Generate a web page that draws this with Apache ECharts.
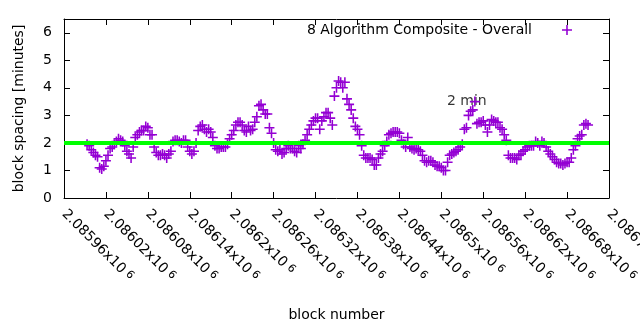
<!DOCTYPE html>
<html><head><meta charset="utf-8">
<script src="https://cdn.jsdelivr.net/npm/echarts@6/dist/echarts.min.js"></script>
<style>html,body{margin:0;padding:0;background:#fff}#c{width:640px;height:330px}</style>
</head><body><div id="c"></div>
<script>
const blocks = [
2085993,2085996,2085999,2086002,2086005,2086008,2086011,2086014,2086017,2086020,
2086023,2086026,2086029,2086032,2086035,2086038,2086041,2086044,2086047,2086050,
2086053,2086056,2086059,2086062,2086065,2086068,2086071,2086074,2086077,2086080,
2086083,2086086,2086089,2086092,2086095,2086098,2086101,2086104,2086107,2086110,
2086113,2086116,2086119,2086122,2086125,2086128,2086131,2086134,2086137,2086140,
2086143,2086146,2086149,2086152,2086155,2086158,2086161,2086164,2086167,2086170,
2086173,2086176,2086179,2086182,2086185,2086188,2086191,2086194,2086197,2086200,
2086203,2086206,2086209,2086212,2086215,2086218,2086221,2086224,2086227,2086230,
2086233,2086236,2086239,2086242,2086245,2086248,2086251,2086254,2086257,2086260,
2086263,2086266,2086269,2086272,2086275,2086278,2086281,2086284,2086287,2086290,
2086293,2086296,2086299,2086302,2086305,2086308,2086311,2086314,2086317,2086320,
2086323,2086326,2086329,2086332,2086335,2086338,2086341,2086344,2086347,2086350,
2086353,2086356,2086359,2086362,2086365,2086368,2086371,2086374,2086377,2086380,
2086383,2086386,2086389,2086392,2086395,2086398,2086401,2086404,2086407,2086410,
2086413,2086416,2086419,2086422,2086425,2086428,2086431,2086434,2086437,2086440,
2086443,2086446,2086449,2086452,2086455,2086458,2086461,2086464,2086467,2086470,
2086473,2086476,2086479,2086482,2086485,2086488,2086491,2086494,2086497,2086500,
2086503,2086506,2086509,2086512,2086515,2086518,2086521,2086524,2086527,2086530,
2086533,2086536,2086539,2086542,2086545,2086548,2086551,2086554,2086557,2086560,
2086563,2086566,2086569,2086572,2086575,2086578,2086581,2086584,2086587,2086590,
2086593,2086596,2086599,2086602,2086605,2086608,2086611,2086614,2086617,2086620,
2086623,2086626,2086629,2086632,2086635,2086638,2086641,2086644,2086647,2086650,
2086653,2086656,2086659,2086662,2086665,2086668,2086671,2086674,2086677,2086680,
2086683,2086686,2086689,2086692,2086695,2086698,2086701,2086704,2086707,2086710
];
const spacing = [
1.95,1.9,1.75,1.65,1.55,1.5,1.1,1.05,1.15,1.35,
1.55,1.8,1.85,1.95,2.05,2.15,2.1,2.05,1.9,1.7,
1.6,1.45,1.85,2.2,2.3,2.4,2.45,2.45,2.6,2.55,
2.3,2.3,1.85,1.65,1.55,1.55,1.6,1.55,1.45,1.6,
1.7,2.05,2.1,2.1,2.05,2.0,2.1,2.1,1.85,1.7,
1.6,1.7,2.0,2.45,2.6,2.65,2.5,2.4,2.5,2.4,
2.2,1.9,1.8,1.8,1.85,1.85,1.85,1.95,2.15,2.3,
2.45,2.65,2.75,2.75,2.65,2.45,2.4,2.6,2.45,2.5,
2.75,2.95,3.35,3.4,3.2,3.05,3.05,2.55,2.35,2.0,
1.75,1.7,1.75,1.6,1.65,1.8,1.9,1.8,1.8,1.7,
1.65,1.9,1.8,1.95,2.1,2.3,2.5,2.65,2.8,2.9,
2.9,2.5,2.8,2.95,3.1,3.1,2.9,2.65,3.7,4.0,
4.25,4.2,4.0,4.2,3.6,3.4,3.2,2.9,2.6,2.5,
2.3,1.9,1.55,1.45,1.45,1.45,1.4,1.2,1.2,1.45,
1.6,1.7,1.9,2.05,2.3,2.35,2.4,2.4,2.4,2.35,
2.1,1.95,1.85,2.2,1.85,1.8,1.75,1.8,1.75,1.7,
1.55,1.35,1.3,1.35,1.35,1.3,1.2,1.15,1.15,1.1,
1.0,1.0,1.3,1.55,1.6,1.65,1.7,1.75,1.85,1.95,
2.5,2.55,3.0,3.15,3.2,3.5,2.7,2.75,2.75,2.8,
2.65,2.4,2.65,2.85,2.8,2.75,2.75,2.55,2.5,2.3,
2.1,1.55,1.45,1.45,1.45,1.4,1.55,1.6,1.7,1.75,
1.85,1.9,1.9,1.9,2.05,2.0,1.9,2.05,2.0,1.85,
1.7,1.6,1.5,1.4,1.3,1.25,1.25,1.2,1.25,1.3,
1.3,1.45,1.75,1.9,2.15,2.25,2.3,2.65,2.7,2.65
];
const seriesName = '8 Algorithm Composite - Overall';
const targetMinutes = 2;
const targetLabel = '2 min';
const targetLabelAt = [2086508, 3.5];
const xTickMantissas = ['2.08596','2.08602','2.08608','2.08614','2.0862','2.08626','2.08632','2.08638','2.08644','2.0865','2.08656','2.08662','2.08668','2.08674'];
const xTickExponent = '6';
const xMin = 2085960, xMax = 2086740, xStep = 60;
const yMin = 0, yMax = 6.5, yStep = 1;

const FONT = 'DejaVu Sans';
const PLUS = 'path://M3.8,0H5.2V3.8H9V5.2H5.2V9H3.8V5.2H0V3.8H3.8Z';
const chart = echarts.init(document.getElementById('c'), null, {renderer: 'canvas'});
const black = '#000000';
const lineStyle = {color: black, width: 1};

chart.setOption({
  animation: false,
  backgroundColor: '#ffffff',
  textStyle: {fontFamily: FONT, color: black},
  grid: {left: 64, right: 31, top: 19, bottom: 132, containLabel: false, outerBoundsMode: 'none'},
  legend: {
    data: [{name: seriesName, icon: PLUS}],
    right: 68, top: 23, padding: 0,
    align: 'right', itemWidth: 10, itemHeight: 10,
    textStyle: {fontFamily: FONT, fontSize: 14, color: black, padding: [0, 25, 0, 0]}
  },
  xAxis: [
    {
      type: 'value', position: 'bottom', min: xMin, max: xMax, interval: xStep,
      axisLine: {show: true, onZero: false, lineStyle},
      axisTick: {show: true, inside: true, length: 6, lineStyle},
      splitLine: {show: false},
      axisLabel: {
        rotate: -45, margin: 14, color: black,
        formatter: function (v) {
          const i = Math.round((v - xMin) / xStep);
          return '{m|' + xTickMantissas[i] + 'x10}{e| ' + xTickExponent + '}';
        },
        rich: {
          m: {fontFamily: FONT, fontSize: 14, color: black},
          e: {fontFamily: FONT, fontSize: 11, color: black, padding: [0, 0, 4, 0]}
        }
      },
      name: 'block number', nameLocation: 'middle', nameGap: 110,
      nameTextStyle: {fontFamily: FONT, fontSize: 14, color: black}
    },
    {
      type: 'value', position: 'top', min: xMin, max: xMax, interval: xStep,
      axisLine: {show: true, onZero: false, lineStyle},
      axisTick: {show: true, inside: true, length: 6, lineStyle},
      splitLine: {show: false}, axisLabel: {show: false}
    }
  ],
  yAxis: [
    {
      type: 'value', position: 'left', min: yMin, max: yMax, interval: yStep,
      axisLine: {show: true, onZero: false, lineStyle},
      axisTick: {show: true, inside: true, length: 6, lineStyle},
      splitLine: {show: false},
      axisLabel: {margin: 12, fontFamily: FONT, fontSize: 14, color: black, showMaxLabel: false,
        formatter: function (v) { return Number.isInteger(v) ? String(v) : ''; }},
      name: 'block spacing [minutes]', nameLocation: 'middle', nameGap: 38, nameRotate: 90,
      nameTextStyle: {fontFamily: FONT, fontSize: 14, color: black}
    },
    {
      type: 'value', position: 'right', min: yMin, max: yMax, interval: yStep,
      axisLine: {show: true, onZero: false, lineStyle},
      axisTick: {show: true, inside: true, length: 6, lineStyle},
      splitLine: {show: false}, axisLabel: {show: false}
    }
  ],
  series: [
    {
      name: seriesName, type: 'scatter', xAxisIndex: 0, yAxisIndex: 0,
      symbol: PLUS, symbolSize: 10,
      itemStyle: {color: '#9400d3', opacity: 1},
      data: blocks.map((b, i) => [b, spacing[i]]),
      z: 2
    },
    {
      name: 'target', type: 'line', xAxisIndex: 0, yAxisIndex: 0,
      showSymbol: false, symbol: 'none', silent: true,
      lineStyle: {color: '#00ff00', width: 4},
      data: [[xMin, targetMinutes], [xMax, targetMinutes]],
      z: 3
    },
    {
      name: 'label', type: 'scatter', xAxisIndex: 0, yAxisIndex: 0,
      symbolSize: 0, silent: true,
      data: [targetLabelAt],
      label: {show: true, position: 'right', distance: 0, formatter: targetLabel,
        fontFamily: FONT, fontSize: 14, color: black},
      z: 1
    }
  ]
});
</script>
</body></html>
